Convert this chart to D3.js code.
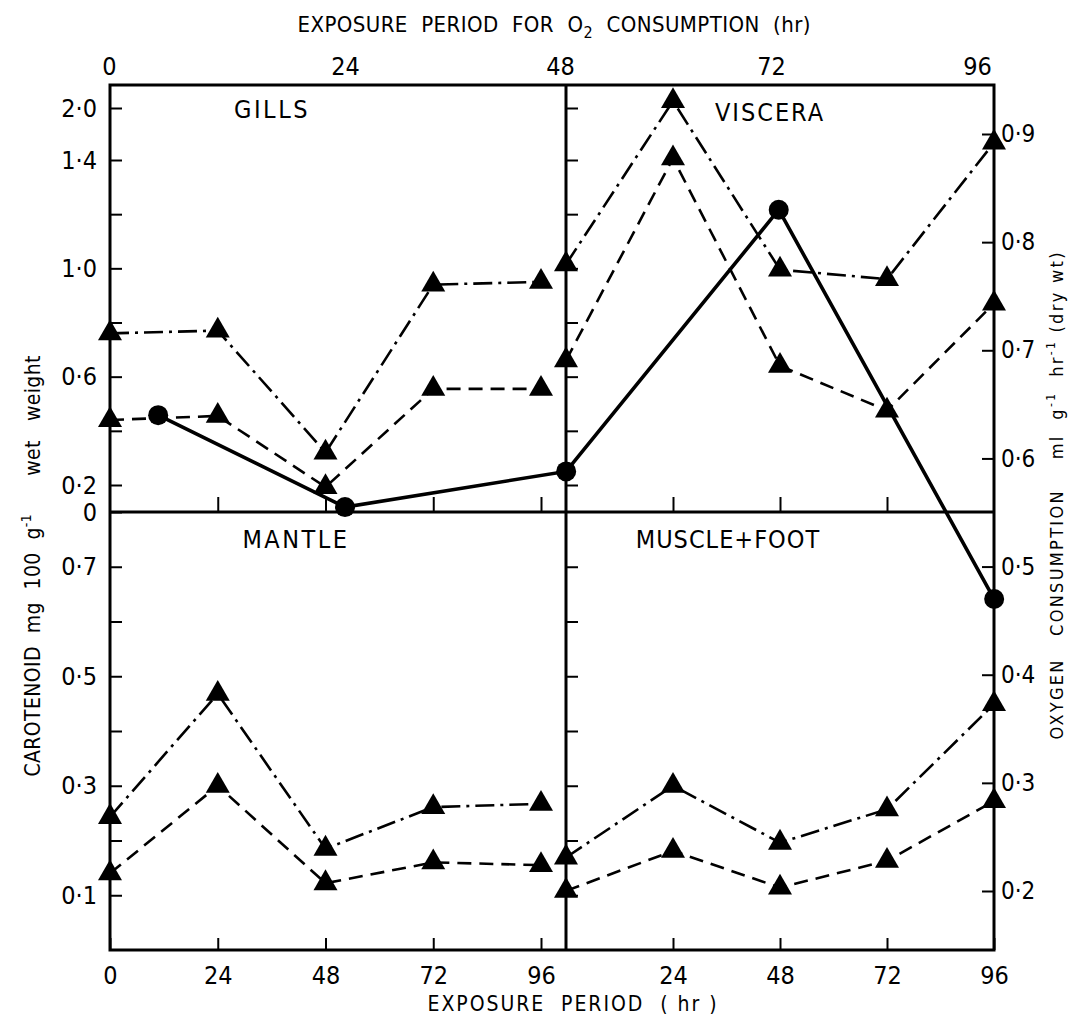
<!DOCTYPE html>
<html>
<head>
<meta charset="utf-8">
<script src="https://cdn.jsdelivr.net/npm/d3@7"></script>
<style>
  html, body { margin: 0; padding: 0; background: #fff; }
  svg { display: block; }
</style>
</head>
<body>
<svg id="chart" width="1076" height="1018"></svg>
<script>
// Exposure periods (hr) at which carotenoid was sampled
const hours = [0, 24, 48, 72, 96];

// Carotenoid, mg 100 g-1 wet weight (dash-dot and dashed series per tissue)
const gillsDashDot   = [0.76, 0.77, 0.32, 0.94, 0.95];
const gillsDashed    = [0.44, 0.455, 0.185, 0.555, 0.555];
const visceraDashDot = [1.015, 2.08, 0.995, 0.96, 1.60];
const visceraDashed  = [0.66, 1.42, 0.64, 0.475, 0.87];
const mantleDashDot  = [0.243, 0.468, 0.185, 0.261, 0.267];
const mantleDashed   = [0.140, 0.300, 0.122, 0.160, 0.155];
const muscleDashDot  = [0.169, 0.300, 0.196, 0.257, 0.449];
const muscleDashed   = [0.108, 0.181, 0.114, 0.163, 0.272];

// Oxygen consumption, ml g-1 hr-1 (dry wt), against the upper time axis
const o2Hours  = [5, 24, 48.7, 72.9, 98];
const o2Values = [0.640, 0.555, 0.588, 0.830, 0.470];

// Tick values
const topHourTicks   = [0, 24, 48, 72, 96];
const caroTopTicks   = [0, 0.2, 0.4, 0.6, 0.8, 1.0, 1.2, 1.4, 2.0];
const caroTopLabels  = [0, 0.2, 0.6, 1.0, 1.4, 2.0];
const caroBotTicks   = [0.1, 0.2, 0.3, 0.4, 0.5, 0.6, 0.7];
const caroBotLabels  = [0.1, 0.3, 0.5, 0.7];
const o2Ticks        = [0.2, 0.3, 0.4, 0.5, 0.6, 0.7, 0.8, 0.9];

const FONT = "'Liberation Sans Narrow', 'DejaVu Sans Condensed', 'Roboto Condensed', 'Arial Narrow', sans-serif";

// Frame geometry
const L = 110, M = 566, R = 994, T = 85, H = 512, B = 950;

const svg = d3.select("#chart");

// Scales
const xLeft  = d3.scaleLinear().domain([0, 96]).range([L, 541]);
const xRight = d3.scaleLinear().domain([0, 96]).range([M, R]);
const xTop   = d3.scaleLinear().domain([0, 24, 48, 72, 96]).range([109, 345, 560, 771, 977]);
// upper carotenoid axis is broken at both ends
const yTop   = d3.scaleLinear().domain([0, 0.2, 1.4, 2.0]).range([H, 485, 160, 108]);
const yBot   = d3.scaleLinear().domain([0, 0.8]).range([B, H]);
const yO2    = d3.scaleLinear().domain([0.2, 0.9]).range([891, 134]);

const fmt = v => v === 0 ? "0" : d3.format(".1f")(v).replace(".", "\u00B7");
const labelIf = list => v => list.some(u => Math.abs(u - v) < 1e-9) ? fmt(v) : "";

function styleAxis(g, size) {
  g.select(".domain").remove();
  g.attr("font-family", FONT).attr("font-size", size);
  g.selectAll(".tick line").attr("stroke", "#000").attr("stroke-width", 2);
  g.selectAll(".tick text").attr("fill", "#000");
}

// ---- axes ----
// left carotenoid axis, upper and lower panels
svg.append("g").attr("transform", `translate(${L},0)`)
  .call(d3.axisLeft(yTop).tickValues(caroTopTicks).tickSizeInner(-12).tickSizeOuter(0)
        .tickPadding(13).tickFormat(labelIf(caroTopLabels)))
  .call(g => styleAxis(g, 25));
svg.append("g").attr("transform", `translate(${L},0)`)
  .call(d3.axisLeft(yBot).tickValues(caroBotTicks).tickSizeInner(-12).tickSizeOuter(0)
        .tickPadding(13).tickFormat(labelIf(caroBotLabels)))
  .call(g => styleAxis(g, 25));

// inner ticks on the centre divider
svg.append("g").attr("transform", `translate(${M},0)`)
  .call(d3.axisLeft(yTop).tickValues(caroTopTicks.filter(v => v > 0)).tickSizeInner(-12)
        .tickSizeOuter(0).tickFormat(""))
  .call(g => styleAxis(g, 25));
svg.append("g").attr("transform", `translate(${M},0)`)
  .call(d3.axisLeft(yBot).tickValues(caroBotTicks).tickSizeInner(-12)
        .tickSizeOuter(0).tickFormat(""))
  .call(g => styleAxis(g, 25));

// right oxygen-consumption axis
svg.append("g").attr("transform", `translate(${R},0)`)
  .call(d3.axisRight(yO2).tickValues(o2Ticks).tickSizeInner(-12).tickSizeOuter(0)
        .tickPadding(7).tickFormat(fmt))
  .call(g => styleAxis(g, 24));

// bottom exposure-period axes
svg.append("g").attr("transform", `translate(0,${B})`)
  .call(d3.axisBottom(xLeft).tickValues(hours).tickSizeInner(-12).tickSizeOuter(0)
        .tickPadding(16).tickFormat(d3.format("d")))
  .call(g => styleAxis(g, 25));
svg.append("g").attr("transform", `translate(0,${B})`)
  .call(d3.axisBottom(xRight).tickValues(hours.slice(1)).tickSizeInner(-12).tickSizeOuter(0)
        .tickPadding(16).tickFormat(d3.format("d")))
  .call(g => styleAxis(g, 25));

// ticks along the centre horizontal divider
svg.append("g").attr("transform", `translate(0,${H})`)
  .call(d3.axisBottom(xLeft).tickValues(hours.slice(1)).tickSizeInner(-15).tickSizeOuter(0).tickFormat(""))
  .call(g => styleAxis(g, 25));
svg.append("g").attr("transform", `translate(0,${H})`)
  .call(d3.axisBottom(xRight).tickValues([24, 48, 72]).tickSizeInner(-15).tickSizeOuter(0).tickFormat(""))
  .call(g => styleAxis(g, 25));

// upper axis: exposure period for O2 consumption
svg.append("g").attr("transform", `translate(0,${T})`)
  .call(d3.axisTop(xTop).tickValues(topHourTicks).tickSizeInner(0).tickSizeOuter(0)
        .tickPadding(10).tickFormat(d3.format("d")))
  .call(g => styleAxis(g, 25));

// ---- frame ----
const frame = svg.append("g").attr("stroke", "#000").attr("stroke-width", 3).attr("fill", "none");
frame.append("rect").attr("x", L).attr("y", T).attr("width", R - L).attr("height", B - T);
frame.append("line").attr("x1", M).attr("x2", M).attr("y1", T).attr("y2", B);
frame.append("line").attr("x1", L).attr("x2", R).attr("y1", H).attr("y2", H);

// ---- data ----
const panels = [
  { title: "GILLS",       x: xLeft,  y: yTop, dashDot: gillsDashDot,   dashed: gillsDashed,   tx: 272, ty: 118, ls: 2.5 },
  { title: "VISCERA",     x: xRight, y: yTop, dashDot: visceraDashDot, dashed: visceraDashed, tx: 770, ty: 121, ls: 2 },
  { title: "MANTLE",      x: xLeft,  y: yBot, dashDot: mantleDashDot,  dashed: mantleDashed,  tx: 296, ty: 548, ls: 2.5 },
  { title: "MUSCLE+FOOT", x: xRight, y: yBot, dashDot: muscleDashDot,  dashed: muscleDashed,  tx: 728, ty: 548, ls: 1 }
];

const tri = d3.symbol().type(d3.symbolTriangle).size(250);

panels.forEach(p => {
  const line = d3.line().x(d => p.x(d[0])).y(d => p.y(d[1]));
  const dd = hours.map((h, i) => [h, p.dashDot[i]]);
  const ds = hours.map((h, i) => [h, p.dashed[i]]);

  svg.append("path").datum(dd).attr("d", line)
    .attr("fill", "none").attr("stroke", "#000").attr("stroke-width", 2.6)
    .attr("stroke-dasharray", "19,6,3,6");
  svg.append("path").datum(ds).attr("d", line)
    .attr("fill", "none").attr("stroke", "#000").attr("stroke-width", 2.6)
    .attr("stroke-dasharray", "14,8");

  svg.selectAll(null).data(dd.concat(ds)).enter().append("path")
    .attr("d", tri)
    .attr("transform", d => `translate(${p.x(d[0])},${p.y(d[1])})`)
    .attr("fill", "#000");

  svg.append("text").attr("x", p.tx).attr("y", p.ty)
    .attr("text-anchor", "middle").attr("font-family", FONT).attr("font-size", 25)
    .attr("letter-spacing", p.ls).text(p.title);
});

// oxygen consumption (solid line, filled circles)
const o2 = o2Hours.map((h, i) => [h, o2Values[i]]);
svg.append("path").datum(o2)
  .attr("d", d3.line().x(d => xTop(d[0])).y(d => yO2(d[1])))
  .attr("fill", "none").attr("stroke", "#000").attr("stroke-width", 3.6);
svg.selectAll(null).data(o2).enter().append("circle")
  .attr("cx", d => xTop(d[0])).attr("cy", d => yO2(d[1])).attr("r", 10).attr("fill", "#000");

// ---- titles ----
const topTitle = svg.append("text").attr("x", 554).attr("y", 32).attr("text-anchor", "middle")
  .attr("font-family", FONT).attr("font-size", 22).style("white-space", "pre")
  .attr("textLength", 513).attr("lengthAdjust", "spacing");
topTitle.append("tspan").text("EXPOSURE  PERIOD  FOR  O");
topTitle.append("tspan").attr("dy", 6).attr("font-size", 16).text("2");
topTitle.append("tspan").attr("dy", -6).text("  CONSUMPTION  (hr)");

svg.append("text").attr("x", 572).attr("y", 1011).attr("text-anchor", "middle")
  .attr("font-family", FONT).attr("font-size", 21).style("white-space", "pre")
  .attr("textLength", 289).attr("lengthAdjust", "spacing")
  .text("EXPOSURE  PERIOD  ( hr )");

// left: carotenoid units
const leftTitle = svg.append("text").attr("transform", "translate(33,566) rotate(-90)")
  .attr("text-anchor", "middle").attr("dy", "0.35em")
  .attr("font-family", FONT).attr("font-size", 21).style("white-space", "pre")
  .attr("textLength", 421).attr("lengthAdjust", "spacing");
leftTitle.append("tspan").text("CAROTENOID  mg  100  g");
leftTitle.append("tspan").attr("dy", -9).attr("font-size", 14).text("-1");
leftTitle.append("tspan").attr("dy", 9).text("      wet   weight");

// right: oxygen consumption units
const rightTitle = svg.append("text").attr("transform", "translate(1057,496) rotate(-90)")
  .attr("text-anchor", "middle").attr("dy", "0.35em")
  .attr("font-family", FONT).attr("font-size", 18).style("white-space", "pre")
  .attr("textLength", 487).attr("lengthAdjust", "spacing");
rightTitle.append("tspan").text("OXYGEN   CONSUMPTION    ml  g");
rightTitle.append("tspan").attr("dy", -8).attr("font-size", 12).text("-1");
rightTitle.append("tspan").attr("dy", 8).text("  hr");
rightTitle.append("tspan").attr("dy", -8).attr("font-size", 12).text("-1");
rightTitle.append("tspan").attr("dy", 8).text(" (dry wt)");
</script>
</body>
</html>
